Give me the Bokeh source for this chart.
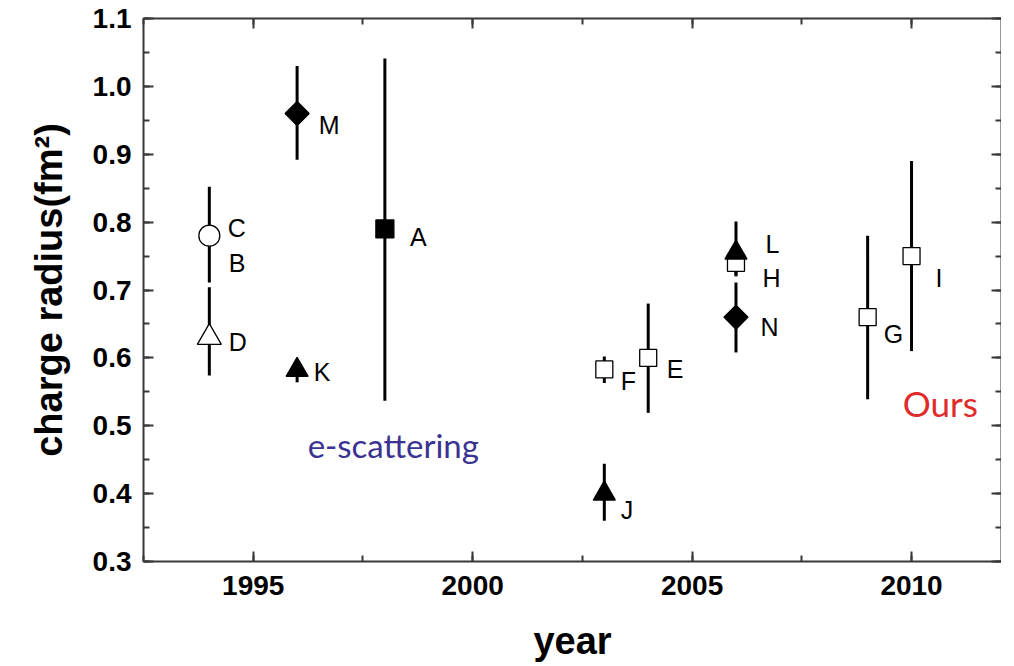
import math
from bokeh.plotting import figure
from bokeh.models import (ColumnDataSource, LinearAxis, SingleIntervalTicker,
                          NumeralTickFormatter, CustomJSTickFormatter, Label, Range1d)
from bokeh.core.properties import value
from bokeh.embed import file_html
from bokeh.resources import INLINE

# ---------------- data ----------------
labels = ["A", "C", "D", "E", "F", "G", "H", "I", "J", "K", "L", "M", "N"]
years = [1998, 1994, 1994, 2004, 2003, 2009, 2006, 2010, 2003, 1996, 2006, 1996, 2006]
radius = [0.79, 0.78, 0.63, 0.60, 0.583, 0.66, 0.74, 0.75, 0.40, 0.582, 0.755, 0.96, 0.66]
lower = [0.537, 0.711, 0.574, 0.519, 0.563, 0.539, 0.720, 0.610, 0.360, 0.564, 0.722, 0.892, 0.608]
upper = [1.041, 0.852, 0.704, 0.680, 0.602, 0.780, 0.760, 0.890, 0.444, 0.590, 0.801, 1.030, 0.711]
kinds = ["filled_square", "open_circle", "open_triangle", "open_square", "open_square",
         "open_square", "open_square", "open_square", "filled_triangle", "filled_triangle",
         "filled_triangle", "filled_diamond", "filled_diamond"]

# label-only entry (no marker drawn in the reference)
extra_labels = ["B"]
extra_years = [1994]
extra_radius = [0.74]

x_tick_interval = 5
y_tick_interval = 0.1

# ---------------- styles ----------------
marker_style = {
    "filled_square":   dict(marker="square",   size=18, fill="black", angle=0.0),
    "open_square":     dict(marker="square",   size=17, fill="white", angle=0.0),
    "open_circle":     dict(marker="circle",   size=21, fill="white", angle=0.0),
    "open_triangle":   dict(marker="triangle", size=24, fill="white", angle=0.0),
    "filled_triangle": dict(marker="triangle", size=22, fill="black", angle=0.0),
    "filled_diamond":  dict(marker="square",   size=17, fill="black", angle=math.pi / 4),
}
# text offsets (pixels) for each label, right of its point
label_offsets = {
    "A": (25, 8.5), "B": (19.5, 0), "C": (18.5, -8), "D": (19.5, 4), "E": (18.5, 10.7),
    "F": (16.4, 12), "G": (16, 16.4), "H": (26.6, 15.6), "I": (24, 22.4), "J": (16.4, 16),
    "K": (16.6, 2), "L": (29.6, -9), "M": (21.6, 11), "N": (24.6, 9.4),
}

src = ColumnDataSource(dict(
    x=years, y=radius, lo=lower, hi=upper,
    marker=[marker_style[k]["marker"] for k in kinds],
    size=[marker_style[k]["size"] for k in kinds],
    fill=[marker_style[k]["fill"] for k in kinds],
    angle=[marker_style[k]["angle"] for k in kinds],
))

all_labels = labels + extra_labels
lab_src = ColumnDataSource(dict(
    x=years + extra_years, y=radius + extra_radius, text=all_labels,
    dx=[label_offsets[l][0] for l in all_labels],
    dy=[label_offsets[l][1] for l in all_labels],
))

AX = "#383838"

p = figure(frame_width=858, frame_height=543,
           x_range=Range1d(1992.5, 2012.05), y_range=Range1d(0.3, 1.1),
           output_backend="svg", toolbar_location=None,
           min_border_left=143, min_border_top=18, min_border_right=0, min_border_bottom=100)
p.grid.visible = False
p.outline_line_color = None
p.background_fill_color = "white"
p.border_fill_color = "white"

xt = SingleIntervalTicker(interval=x_tick_interval, num_minor_ticks=2)
yt = SingleIntervalTicker(interval=y_tick_interval, num_minor_ticks=2)

def style_axis(ax):
    ax.axis_line_width = 2
    ax.axis_line_color = AX
    ax.major_tick_line_width = 2
    ax.major_tick_line_color = AX
    ax.minor_tick_line_width = 2
    ax.minor_tick_line_color = AX
    ax.major_tick_in = 10
    ax.major_tick_out = 0
    ax.minor_tick_in = 6
    ax.minor_tick_out = 0
    ax.major_label_text_font = "Liberation Sans"
    ax.major_label_text_font_style = "bold"
    ax.major_label_text_font_size = "28px"
    ax.major_label_text_color = "black"

xa = p.xaxis[0]
xa.ticker = xt
style_axis(xa)
xa.major_label_standoff = 14
xa.axis_label = "year"
xa.axis_label_text_font = "Liberation Sans"
xa.axis_label_text_font_style = "bold"
xa.axis_label_text_font_size = "38px"
xa.axis_label_text_color = "black"
xa.axis_label_standoff = 22

ya = p.yaxis[0]
ya.ticker = yt
style_axis(ya)
ya.formatter = NumeralTickFormatter(format="0.0")
ya.major_label_standoff = 12
ya.axis_label = "charge radius(fm²)"
ya.axis_label_text_font = "Liberation Sans"
ya.axis_label_text_font_style = "bold"
ya.axis_label_text_font_size = "38px"
ya.axis_label_text_color = "black"
ya.axis_label_standoff = 20

empty = CustomJSTickFormatter(code="return ''")
top = LinearAxis(ticker=xt, formatter=empty, major_label_standoff=0)
style_axis(top)
top.major_label_text_font_size = "0px"
right = LinearAxis(ticker=yt, formatter=empty, major_label_standoff=0)
style_axis(right)
right.major_label_text_font_size = "0px"
p.add_layout(top, "above")
p.add_layout(right, "right")

# error bars
p.segment(x0="x", y0="lo", x1="x", y1="hi", source=src, line_color="black", line_width=3)
# markers
p.scatter(x="x", y="y", marker="marker", size="size", angle="angle", fill_color="fill",
          line_color="black", line_width=1.3, source=src)
# point letters
p.text(x="x", y="y", text="text", x_offset="dx", y_offset="dy", source=lab_src,
       text_font=value("Liberation Sans"), text_font_size="25px", text_color="black",
       text_align="left", text_baseline="middle")

p.add_layout(Label(x=1996.24, y=0.471, text="e-scattering", text_font="Lato",
                   text_font_size="33px", text_color="#3B3391", text_baseline="alphabetic"))
p.add_layout(Label(x=2009.80, y=0.533, text="Ours", text_font="Lato",
                   text_font_size="35px", text_color="#E02B2B", text_baseline="alphabetic"))

open("out.html", "w").write(file_html(p, INLINE))
